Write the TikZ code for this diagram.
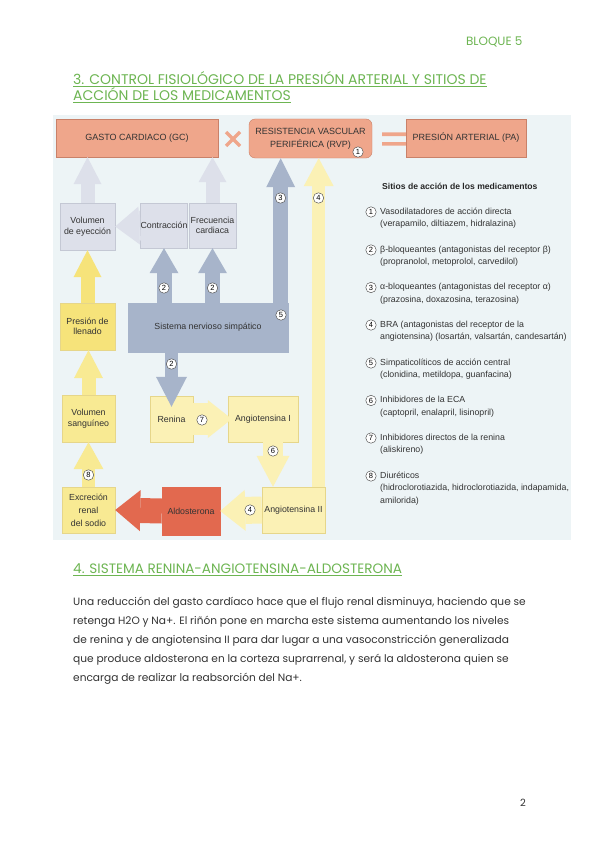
\documentclass[tikz,border=0pt]{standalone}
\usepackage{fontspec}
\setmainfont{Poppins}
\newfontfamily\figfont{Liberation Sans}
\usetikzlibrary{arrows.meta,positioning}

\definecolor{titgreen}{HTML}{6DB552}
\definecolor{bodytxt}{HTML}{333333}
\definecolor{figbg}{HTML}{EDF4F6}
\definecolor{salmon}{HTML}{EFA68B}
\definecolor{salmonedge}{HTML}{C98169}
\definecolor{greybox}{HTML}{DDE0EA}
\definecolor{greyedge}{HTML}{C4C8D4}
\definecolor{bluesns}{HTML}{A7B4CA}
\definecolor{paleyel}{HTML}{FBF1B5}
\definecolor{yeledge}{HTML}{E6D68A}
\definecolor{midyel}{HTML}{F8EA93}
\definecolor{deepyel}{HTML}{F6E37A}
\definecolor{aldored}{HTML}{E2694F}

\tikzset{
  box/.style={rectangle,inner sep=0pt,align=center,line width=0.4pt,text=black!80,
    font=\figfont\fontsize{8.8}{10.5}\selectfont},
  cnum/.style={circle,draw=black!70,fill=white,inner sep=0pt,minimum size=10.5pt,line width=0.45pt,
    font=\figfont\fontsize{7.5}{7.5}\selectfont},
  blk/.style n args={4}{draw=#1,line width=#2,-{Triangle[width=#3,length=#4,line width=0pt]}},
  med/.style={anchor=west,align=left,inner sep=0pt,text=black!80,font=\figfont\fontsize{8.8}{12.5}\selectfont}
}

\begin{document}
\begin{tikzpicture}[x=1pt,y=-1pt]
\useasboundingbox (0,0) rectangle (600,848);
\fill[white] (0,0) rectangle (600,848);

\node[anchor=east,text=titgreen,font=\fontsize{12}{14}\selectfont] (bloque) at (526,42) {BLOQUE 5};
\node[anchor=west,align=left,inner sep=0pt,text=titgreen,font=\fontsize{14}{16}\selectfont] (tit3) at (73,87)
  {\underline{3. CONTROL FISIOLÓGICO DE LA PRESIÓN ARTERIAL Y SITIOS DE}\\\underline{ACCIÓN DE LOS MEDICAMENTOS}};

\fill[figbg] (53,115) rectangle (571,540);

\node[box,fill=salmon,draw=salmonedge,minimum width=162pt,minimum height=38pt,font=\figfont\fontsize{9}{10}\selectfont] (gc) at (137,138) {GASTO CARDIACO (GC)};
\draw[salmon,line width=3.5pt] (226,132)--(240,146) (226,146)--(240,132);
\node[box,fill=salmon,draw=salmonedge,rounded corners=6pt,minimum width=123pt,minimum height=39pt,font=\figfont\fontsize{9}{13}\selectfont] (rvp) at (310.5,138.5) {RESISTENCIA VASCULAR\\PERIFÉRICA (RVP)};
\fill[salmon] (382,132.5) rectangle (406,136) (382,142) rectangle (406,145.5);
\node[box,fill=salmon,draw=salmonedge,minimum width=120pt,minimum height=38pt,font=\figfont\fontsize{9}{10}\selectfont] (pa) at (466,138) {PRESIÓN ARTERIAL (PA)};

\node[box,fill=greybox,draw=greyedge,minimum width=55pt,minimum height=47pt] (vole) at (87.5,226.5) {Volumen\\de eyección};
\node[box,fill=greybox,draw=greyedge,minimum width=46pt,minimum height=45pt] (contr) at (164,225.5) {Contracción};
\node[box,fill=greybox,draw=greyedge,minimum width=47pt,minimum height=45pt] (frec) at (212.5,225.5) {Frecuencia\\cardiaca};
\node[box,fill=deepyel,draw=yeledge,minimum width=55pt,minimum height=47pt] (presion) at (87.5,326.5) {Presión de\\llenado};
\node[box,fill=midyel,draw=yeledge,minimum width=53pt,minimum height=47pt] (vols) at (88.5,418.5) {Volumen\\sanguíneo};
\node[box,fill=midyel,draw=yeledge,minimum width=53pt,minimum height=46pt,font=\figfont\fontsize{8.8}{13}\selectfont] (excr) at (88.5,510) {Excreción\\renal\\del sodio};
\node[box,fill=bluesns,draw=bluesns,minimum width=160pt,minimum height=49pt] (sns) at (208,327.5) {Sistema nervioso simpático};
\node[box,fill=paleyel,draw=yeledge,minimum width=43pt,minimum height=46pt] (renina) at (171.5,419) {Renina};
\node[box,fill=paleyel,draw=yeledge,minimum width=70pt,minimum height=46pt] (angI) at (263,419) {Angiotensina I};
\node[box,fill=paleyel,draw=yeledge,minimum width=63pt,minimum height=46pt] (angII) at (293.5,510) {Angiotensina II};
\node[box,fill=aldored,draw=aldored,minimum width=58pt,minimum height=48pt] (aldo) at (191,511) {Aldosterona};

\coordinate (snstop) at ([xshift=-7.5pt]sns.north east);
\coordinate (a6) at ([xshift=10pt]angI.south);
\coordinate (a4) at ([xshift=-6.5pt]angII.north east);

\draw[blk={greybox}{14pt}{28pt}{27pt}] (vole.north) -- (vole.north |- gc.south);
\draw[blk={greybox}{14pt}{28pt}{25pt}] (frec.north) -- (frec.north |- gc.south);
\draw[blk={greybox}{30pt}{38pt}{24pt}] (contr.west) -- (vole.east);
\draw[blk={deepyel}{14pt}{28pt}{27pt}] (presion.north) -- (vole.south);
\draw[blk={midyel}{14pt}{29pt}{28pt}] (vols.north) -- (vols.north |- presion.south);
\draw[blk={midyel}{13pt}{30pt}{27pt}] (excr.north) -- (vols.south);
\draw[blk={bluesns}{15pt}{29pt}{25pt}] (sns.north -| contr.south) -- (contr.south);
\draw[blk={bluesns}{15pt}{29pt}{25pt}] (sns.north -| frec.south) -- (frec.south);
\draw[blk={bluesns}{15pt}{29pt}{29pt}] (snstop) -- (snstop |- rvp.south);
\draw[blk={bluesns}{13pt}{31pt}{30pt}] (sns.south -| renina.north) -- ([yshift=-11pt]renina.north);
\draw[blk={paleyel}{32pt}{38pt}{24pt}] (renina.east) -- ([xshift=4pt]angI.west);
\draw[blk={paleyel}{20pt}{33pt}{31pt}] (a6) -- (a6 |- angII.north);
\draw[blk={paleyel}{27pt}{41pt}{25pt}] (angII.west) -- (aldo.east);
\draw[blk={aldored}{25pt}{41pt}{25pt}] (aldo.west) -- (excr.east);
\draw[blk={paleyel}{13pt}{30pt}{28pt}] (a4) -- (a4 |- rvp.south);

\node[cnum] (n1) at (358,152) {1};
\node[cnum] (n3) at (280.5,198) {3};
\node[cnum] (n4a) at (318.5,198) {4};
\node[cnum] (n2a) at (164,288) {2};
\node[cnum] (n2b) at (212.5,288) {2};
\node[cnum] (n5) at (281,315) {5};
\node[cnum] (n2c) at (171.5,364) {2};
\node[cnum] (n7) at (202,420) {7};
\node[cnum] (n6) at (273,451) {6};
\node[cnum] (n4b) at (250,510) {4};
\node[cnum] (n8) at (88.5,475) {8};

\node[anchor=west,inner sep=0pt,text=black!85,font=\figfont\bfseries\fontsize{8.6}{10}\selectfont] (sitios) at (382,186) {Sitios de acción de los medicamentos};
\node[cnum] (m1) at (371,212) {1};
\node[med] (t1) at (380,218) {Vasodilatadores de acción directa\\(verapamilo, diltiazem, hidralazina)};
\node[cnum] (m2) at (371,250) {2};
\node[med] (t2) at (380,256) {β-bloqueantes (antagonistas del receptor β)\\(propranolol, metoprolol, carvedilol)};
\node[cnum] (m3) at (371,287.5) {3};
\node[med] (t3) at (380,293.5) {α-bloqueantes (antagonistas del receptor α)\\(prazosina, doxazosina, terazosina)};
\node[cnum] (m4) at (371,325) {4};
\node[med] (t4) at (380,331) {BRA (antagonistas del receptor de la\\angiotensina) (losartán, valsartán, candesartán)};
\node[cnum] (m5) at (371,363) {5};
\node[med] (t5) at (380,369) {Simpaticolíticos de acción central\\(clonidina, metildopa, guanfacina)};
\node[cnum] (m6) at (371,400.5) {6};
\node[med] (t6) at (380,406.5) {Inhibidores de la ECA\\(captopril, enalapril, lisinopril)};
\node[cnum] (m7) at (371,438) {7};
\node[med] (t7) at (380,444) {Inhibidores directos de la renina\\(aliskireno)};
\node[cnum] (m8) at (371,476) {8};
\node[med] (t8) at (380,488.5) {Diuréticos\\(hidroclorotiazida, hidroclorotiazida, indapamida,\\amilorida)};

\node[anchor=west,inner sep=0pt,text=titgreen,font=\fontsize{13.6}{16}\selectfont] (tit4) at (73,570) {\underline{4. SISTEMA RENINA-ANGIOTENSINA-ALDOSTERONA}};
\node[anchor=west,align=left,inner sep=0pt,text=bodytxt,font=\fontsize{10.6}{19}\selectfont] (body) at (73,641)
  {Una reducción del gasto cardíaco hace que el flujo renal disminuya, haciendo que se\\
   retenga H2O y Na+. El riñón pone en marcha este sistema aumentando los niveles\\
   de renina y de angiotensina II para dar lugar a una vasoconstricción generalizada\\
   que produce aldosterona en la corteza suprarrenal, y será la aldosterona quien se\\
   encarga de realizar la reabsorción del Na+.};
\node[text=bodytxt,font=\fontsize{10}{12}\selectfont] (pagenum) at (523,803) {2};
\end{tikzpicture}
\end{document}
